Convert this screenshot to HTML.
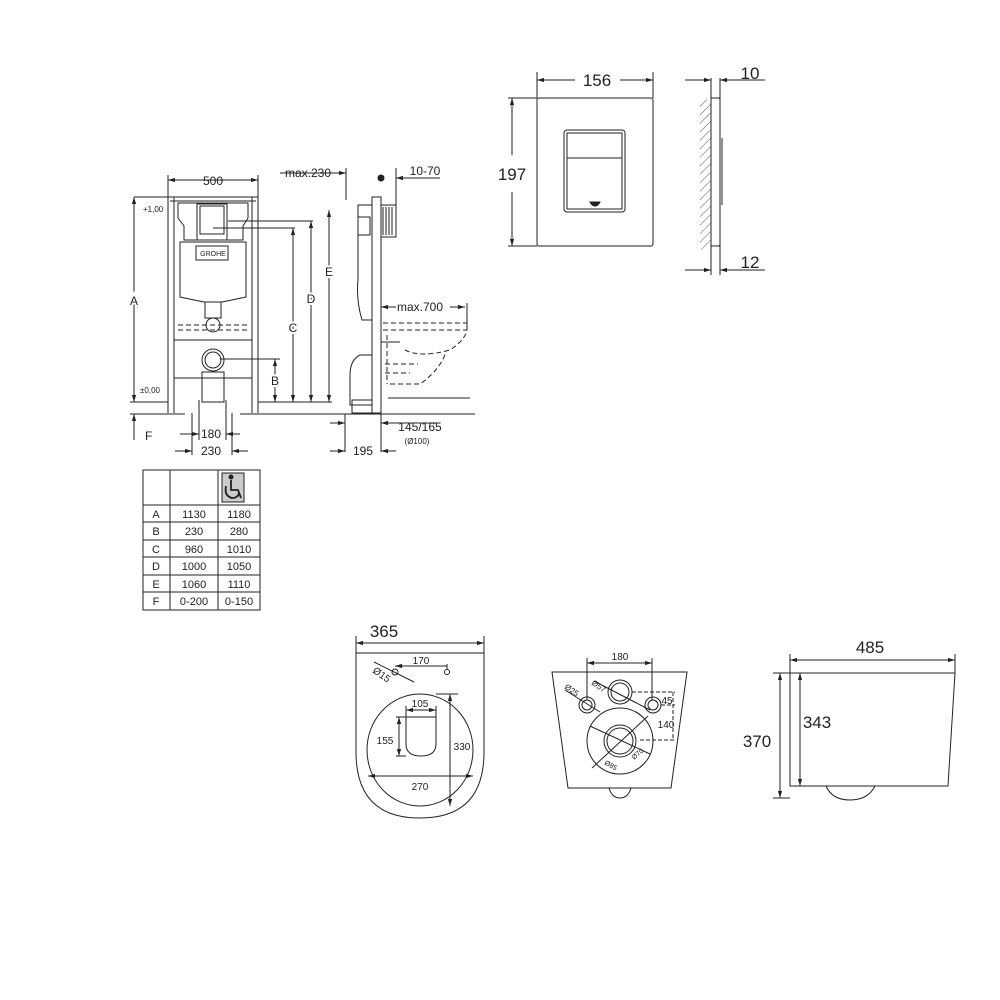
<!DOCTYPE html>
<html><head><meta charset="utf-8"><style>
html,body{margin:0;padding:0;background:#fff}
svg{display:block}
text{font-family:"Liberation Sans",Arial,sans-serif;fill:#222}
</style></head><body>
<svg width="1000" height="1000" viewBox="0 0 1000 1000" xmlns="http://www.w3.org/2000/svg">
<defs>
<marker id="a" viewBox="0 0 10 10" refX="10" refY="5" markerWidth="7" markerHeight="7" orient="auto-start-reverse"><path d="M0,2 L10,5 L0,8z" fill="#222"/></marker>
<pattern id="h" width="6" height="6" patternUnits="userSpaceOnUse" patternTransform="rotate(45)"><line x1="0" y1="0" x2="0" y2="6" stroke="#555" stroke-width="1"/></pattern>
</defs>
<g stroke="#222" fill="none" stroke-width="1">
<!-- FRONT FRAME -->
<line x1="168" y1="192" x2="168" y2="413"/><line x1="174" y1="197" x2="174" y2="413"/>
<line x1="252" y1="197" x2="252" y2="413"/><line x1="258" y1="192" x2="258" y2="413"/>
<line x1="168" y1="197" x2="258" y2="197"/><line x1="170" y1="201" x2="256" y2="201"/>
<line x1="168" y1="180" x2="258" y2="180" marker-start="url(#a)" marker-end="url(#a)"/>
<line x1="168" y1="175" x2="168" y2="192"/><line x1="258" y1="175" x2="258" y2="192"/>
<path d="M178,203 H248 V218 L243,226 V240 H184 V226 L178,218Z"/>
<rect x="197" y="204" width="30" height="36"/><rect x="200" y="206" width="24" height="28"/>
<path d="M180,242 H246 V297 Q232,300 222,302 H204 Q194,300 180,297Z"/>
<rect x="196" y="246" width="32" height="14"/>
<path d="M205,302 V318 H221 V302"/><circle cx="213" cy="325" r="7"/>
<path d="M178,325 H248 M178,330 H248" stroke-dasharray="5,3"/>
<line x1="174" y1="340" x2="252" y2="340"/><line x1="174" y1="378" x2="252" y2="378"/>
<circle cx="213" cy="360" r="11"/><circle cx="213" cy="360" r="8"/>
<rect x="202" y="372" width="22" height="30"/>
<line x1="134" y1="197" x2="168" y2="197"/>
<line x1="134" y1="197" x2="134" y2="402" marker-start="url(#a)" marker-end="url(#a)"/>
<line x1="130" y1="402" x2="168" y2="402"/>
<line x1="130" y1="414" x2="185" y2="414"/><line x1="240" y1="414" x2="475" y2="414"/>
<line x1="134" y1="414" x2="134" y2="440" marker-start="url(#a)"/>
<line x1="213" y1="228" x2="295" y2="228"/>
<line x1="293" y1="228" x2="293" y2="402" marker-start="url(#a)" marker-end="url(#a)"/>
<line x1="228" y1="221" x2="313" y2="221"/>
<line x1="311" y1="221" x2="311" y2="402" marker-start="url(#a)" marker-end="url(#a)"/>
<line x1="329" y1="210" x2="329" y2="402" marker-start="url(#a)" marker-end="url(#a)"/>
<line x1="220" y1="359" x2="280" y2="359"/>
<line x1="275" y1="359" x2="275" y2="402" marker-start="url(#a)" marker-end="url(#a)"/>
<line x1="258" y1="402" x2="332" y2="402"/>
<line x1="192" y1="413" x2="192" y2="455"/><line x1="232" y1="413" x2="232" y2="455"/>
<line x1="199" y1="400" x2="199" y2="440"/><line x1="226" y1="400" x2="226" y2="440"/>
<line x1="180" y1="434" x2="199" y2="434" marker-end="url(#a)"/><line x1="240" y1="434" x2="226" y2="434" marker-end="url(#a)"/>
<line x1="175" y1="451" x2="192" y2="451" marker-end="url(#a)"/><line x1="248" y1="451" x2="232" y2="451" marker-end="url(#a)"/>
<!-- SIDE VIEW -->
<rect x="372" y="197" width="9" height="216"/>
<rect x="381" y="205" width="15" height="32"/>
<path d="M383,207 V235 M386,207 V235 M389,207 V235 M392,207 V235"/>
<circle cx="381" cy="178" r="3" fill="#222"/>
<path d="M358,205 H372 V320 H362 Q356,300 358,280 Z"/>
<rect x="358" y="217" width="12" height="18"/>
<path d="M372,355 H360 Q350,360 350,375 V405 H372"/>
<rect x="352" y="400" width="20" height="13"/>
<line x1="346" y1="168" x2="346" y2="200"/>
<line x1="280" y1="173" x2="346" y2="173" marker-end="url(#a)"/>
<line x1="396" y1="168" x2="396" y2="205"/>
<line x1="440" y1="178" x2="396" y2="178" marker-end="url(#a)"/>
<line x1="381" y1="307" x2="396" y2="307" marker-start="url(#a)"/>
<line x1="465" y1="307" x2="450" y2="307" marker-start="url(#a)"/>
<line x1="467" y1="303" x2="467" y2="330"/>
<path d="M383,323 H467 M383,330 H467 M387,335 V384 M385,364 H418 M385,373 H410 M390,384 H420 Q440,370 446,352 M405,350 Q420,358 450,350 Q465,340 467,330" stroke-dasharray="5,3"/>
<line x1="381" y1="342" x2="400" y2="342"/>
<line x1="388" y1="398" x2="470" y2="398"/>
<line x1="345" y1="414" x2="345" y2="452"/><line x1="381" y1="414" x2="381" y2="452"/>
<line x1="330" y1="423" x2="345" y2="423" marker-end="url(#a)"/><line x1="396" y1="423" x2="381" y2="423" marker-end="url(#a)"/><line x1="381" y1="423" x2="440" y2="423"/>
<line x1="330" y1="451" x2="345" y2="451" marker-end="url(#a)"/><line x1="396" y1="451" x2="381" y2="451" marker-end="url(#a)"/>
<!-- TABLE -->
<rect x="143" y="470" width="117" height="140"/>
<line x1="170" y1="470" x2="170" y2="610"/><line x1="218" y1="470" x2="218" y2="610"/>
<line x1="143" y1="505" x2="260" y2="505"/><line x1="143" y1="522" x2="260" y2="522"/><line x1="143" y1="540" x2="260" y2="540"/><line x1="143" y1="557" x2="260" y2="557"/><line x1="143" y1="575" x2="260" y2="575"/><line x1="143" y1="592" x2="260" y2="592"/>
<rect x="222" y="473" width="22" height="29" fill="#ccc"/>
<circle cx="231" cy="477" r="2" fill="#222"/>
<path d="M231,480 V490 H238 L241,498 M226,486 Q224,496 232,498 Q238,498 239,493" stroke-width="1.8"/>
<!-- FLUSH PLATE -->
<rect x="537" y="98" width="116" height="148" rx="2"/>
<rect x="564" y="130" width="61" height="82" rx="3"/><rect x="567" y="133" width="55" height="76"/>
<line x1="567" y1="158" x2="622" y2="158"/>
<path d="M590,202 H600 Q598,206 595,206 Q592,206 590,202Z" fill="#222"/>
<line x1="537" y1="72" x2="537" y2="98"/><line x1="653" y1="72" x2="653" y2="98"/>
<line x1="537" y1="80" x2="575" y2="80" marker-start="url(#a)"/><line x1="620" y1="80" x2="653" y2="80" marker-end="url(#a)"/>
<line x1="508" y1="98" x2="537" y2="98"/><line x1="508" y1="246" x2="537" y2="246"/>
<line x1="512" y1="98" x2="512" y2="155" marker-start="url(#a)"/><line x1="512" y1="192" x2="512" y2="246" marker-end="url(#a)"/>
<path d="M700,102 L711,98 V246 L700,250Z" fill="url(#h)" stroke="none"/>
<line x1="711" y1="78" x2="711" y2="275"/>
<path d="M711,98 H719 Q720,98 720,100 V244 Q720,246 719,246 H711"/><line x1="722" y1="138" x2="722" y2="205"/>
<line x1="720" y1="78" x2="720" y2="275"/>
<line x1="685" y1="80" x2="711" y2="80" marker-end="url(#a)"/><line x1="765" y1="80" x2="720" y2="80" marker-end="url(#a)"/>
<line x1="685" y1="270" x2="711" y2="270" marker-end="url(#a)"/><line x1="765" y1="270" x2="720" y2="270" marker-end="url(#a)"/>
<!-- BOWL TOP -->
<line x1="356" y1="643" x2="484" y2="643" marker-start="url(#a)" marker-end="url(#a)"/>
<line x1="356" y1="636" x2="356" y2="653"/><line x1="484" y1="636" x2="484" y2="653"/>
<path d="M356,653 H484 V752 Q484,818 420,818 Q356,818 356,752Z"/>
<ellipse cx="420" cy="750" rx="53" ry="56"/>
<path d="M406,717 H436 V744 Q436,756 421,756 Q406,756 406,744Z"/>
<circle cx="395" cy="672" r="3"/><circle cx="447" cy="672" r="2.5"/>
<line x1="395" y1="666" x2="447" y2="666" marker-start="url(#a)"/>
<line x1="447" y1="664" x2="447" y2="670"/>
<line x1="374" y1="662" x2="414" y2="682"/>
<line x1="406" y1="710" x2="436" y2="710" marker-start="url(#a)" marker-end="url(#a)"/>
<line x1="406" y1="706" x2="406" y2="717"/><line x1="436" y1="706" x2="436" y2="717"/>
<line x1="399" y1="717" x2="399" y2="756" marker-start="url(#a)" marker-end="url(#a)"/>
<line x1="396" y1="717" x2="406" y2="717"/><line x1="396" y1="756" x2="406" y2="756"/>
<line x1="436" y1="694" x2="458" y2="694"/>
<line x1="450" y1="694" x2="450" y2="806" marker-start="url(#a)" marker-end="url(#a)"/>
<line x1="368" y1="776" x2="473" y2="776" marker-start="url(#a)" marker-end="url(#a)"/>
<!-- BOWL BACK -->
<path d="M552,672 H687 L671,788 H568Z"/>
<path d="M609,788 Q612,798 620,798 Q628,798 631,788"/>
<line x1="587" y1="663" x2="652" y2="663" marker-start="url(#a)" marker-end="url(#a)"/>
<line x1="587" y1="658" x2="587" y2="700"/><line x1="652" y1="658" x2="652" y2="700"/>
<circle cx="620" cy="692" r="12"/><circle cx="620" cy="692" r="9"/>
<circle cx="587" cy="705" r="8"/><circle cx="587" cy="705" r="5"/>
<circle cx="653" cy="705" r="8"/><circle cx="653" cy="705" r="5"/>
<circle cx="620" cy="741" r="33"/><circle cx="620" cy="741" r="16"/><circle cx="620" cy="741" r="13"/>
<line x1="594" y1="681" x2="650" y2="710"/><line x1="565" y1="690" x2="600" y2="712"/>
<line x1="590" y1="726" x2="650" y2="754"/><line x1="592" y1="768" x2="648" y2="716"/>
<path d="M632,692 H675 M661,705 H675 M640,740 H675 M673,692 V740" stroke-dasharray="4,2"/>
<!-- BOWL SIDE -->
<line x1="790" y1="660" x2="955" y2="660" marker-start="url(#a)" marker-end="url(#a)"/>
<line x1="790" y1="654" x2="790" y2="673"/><line x1="955" y1="654" x2="955" y2="673"/>
<path d="M790,673 H955 L948,786 H790Z"/>
<path d="M826,786 Q832,800 850,800 Q868,800 875,786"/>
<line x1="773" y1="673" x2="790" y2="673"/><line x1="773" y1="798" x2="790" y2="798"/>
<line x1="780" y1="673" x2="780" y2="798" marker-start="url(#a)" marker-end="url(#a)"/>
<line x1="800" y1="673" x2="800" y2="786" marker-start="url(#a)" marker-end="url(#a)"/>
</g>
<!-- TEXT -->
<g font-size="12">
<text x="213" y="185" text-anchor="middle">500</text>
<text x="308" y="177" text-anchor="middle">max.230</text>
<text x="425" y="175" text-anchor="middle">10-70</text>
<text x="420" y="311" text-anchor="middle">max.700</text>
<text x="211" y="438" text-anchor="middle">180</text>
<text x="211" y="455" text-anchor="middle">230</text>
<text x="363" y="455" text-anchor="middle">195</text>
<text x="420" y="431" text-anchor="middle">145/165</text>
<text x="417" y="444" text-anchor="middle" font-size="8">(Ø100)</text>
<text x="134" y="305" text-anchor="middle" stroke="#fff" stroke-width="4" style="paint-order:stroke">A</text>
<text x="275" y="385" text-anchor="middle" stroke="#fff" stroke-width="4" style="paint-order:stroke">B</text>
<text x="293" y="332" text-anchor="middle" stroke="#fff" stroke-width="4" style="paint-order:stroke">C</text>
<text x="311" y="303" text-anchor="middle" stroke="#fff" stroke-width="4" style="paint-order:stroke">D</text>
<text x="329" y="276" text-anchor="middle" stroke="#fff" stroke-width="4" style="paint-order:stroke">E</text>
<text x="145" y="440">F</text>
<text x="143" y="212" font-size="8">+1,00</text>
<text x="140" y="393" font-size="8">±0,00</text>
<text x="213" y="256" text-anchor="middle" font-size="7">GROHE</text>
</g>
<g font-size="11">
<text x="156" y="518" text-anchor="middle">A</text><text x="194" y="518" text-anchor="middle">1130</text><text x="239" y="518" text-anchor="middle">1180</text>
<text x="156" y="535" text-anchor="middle">B</text><text x="194" y="535" text-anchor="middle">230</text><text x="239" y="535" text-anchor="middle">280</text>
<text x="156" y="553" text-anchor="middle">C</text><text x="194" y="553" text-anchor="middle">960</text><text x="239" y="553" text-anchor="middle">1010</text>
<text x="156" y="570" text-anchor="middle">D</text><text x="194" y="570" text-anchor="middle">1000</text><text x="239" y="570" text-anchor="middle">1050</text>
<text x="156" y="588" text-anchor="middle">E</text><text x="194" y="588" text-anchor="middle">1060</text><text x="239" y="588" text-anchor="middle">1110</text>
<text x="156" y="605" text-anchor="middle">F</text><text x="194" y="605" text-anchor="middle">0-200</text><text x="239" y="605" text-anchor="middle">0-150</text>
</g>
<g font-size="17">
<text x="597" y="86" text-anchor="middle">156</text>
<text x="512" y="180" text-anchor="middle">197</text>
<text x="750" y="79" text-anchor="middle">10</text>
<text x="750" y="268" text-anchor="middle">12</text>
<text x="384" y="637" text-anchor="middle">365</text>
<text x="870" y="653" text-anchor="middle">485</text>
<text x="817" y="728" text-anchor="middle">343</text>
<text x="757" y="747" text-anchor="middle">370</text>
</g>
<g font-size="10">
<text x="421" y="664" text-anchor="middle">170</text>
<text x="420" y="707" text-anchor="middle">105</text>
<text x="385" y="744" text-anchor="middle">155</text>
<text x="462" y="750" text-anchor="middle">330</text>
<text x="420" y="790" text-anchor="middle">270</text>
<text x="620" y="660" text-anchor="middle">180</text>
<text x="667" y="704" text-anchor="middle">45</text>
<text x="666" y="728" text-anchor="middle">140</text>
<text x="372" y="672" transform="rotate(35 372 672)">Ø15</text>
<text x="564" y="688" font-size="8" transform="rotate(35 564 688)">Ø25</text>
<text x="591" y="684" font-size="8" transform="rotate(35 591 684)">Ø57</text>
<text x="604" y="764" font-size="7" transform="rotate(30 604 764)">Ø85</text>
<text x="634" y="760" font-size="7" transform="rotate(-40 634 760)">Ø70</text>
</g>
</svg>
</body></html>
